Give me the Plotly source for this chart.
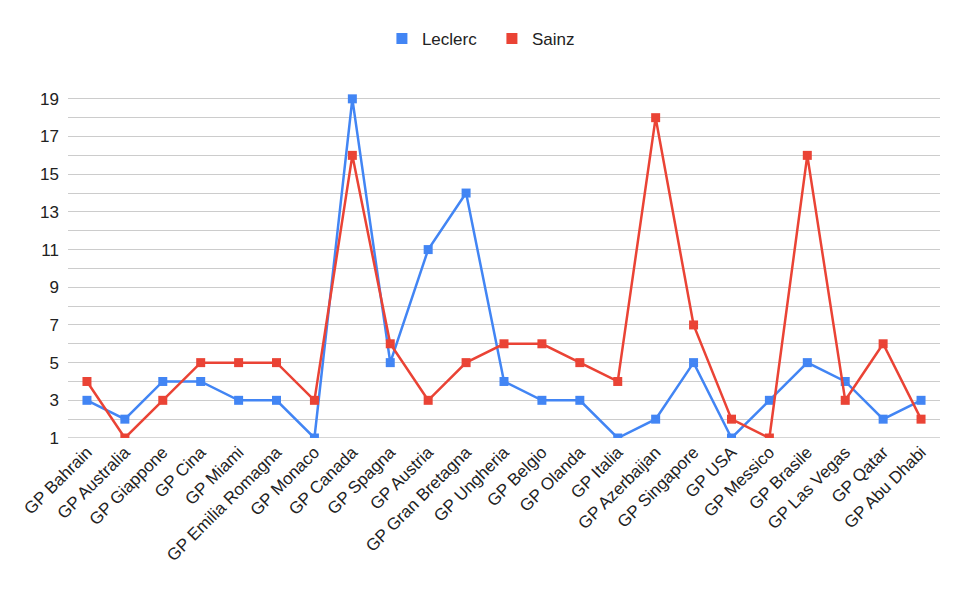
import plotly.graph_objects as go

races = ["GP Bahrain", "GP Australia", "GP Giappone", "GP Cina", "GP Miami",
         "GP Emilia Romagna", "GP Monaco", "GP Canada", "GP Spagna", "GP Austria",
         "GP Gran Bretagna", "GP Ungheria", "GP Belgio", "GP Olanda", "GP Italia",
         "GP Azerbaijan", "GP Singapore", "GP USA", "GP Messico", "GP Brasile",
         "GP Las Vegas", "GP Qatar", "GP Abu Dhabi"]
leclerc = [3, 2, 4, 4, 3, 3, 1, 19, 5, 11, 14, 4, 3, 3, 1, 2, 5, 1, 3, 5, 4, 2, 3]
sainz = [4, 1, 3, 5, 5, 5, 3, 16, 6, 3, 5, 6, 6, 5, 4, 18, 7, 2, 1, 16, 3, 6, 2]
y_ticks = [1, 3, 5, 7, 9, 11, 13, 15, 17, 19]

BLUE = "#4285F4"
RED = "#EA4335"
FONT = "Liberation Sans, Arial, sans-serif"

fig = go.Figure()
for name, vals, col in [("Leclerc", leclerc, BLUE), ("Sainz", sainz, RED)]:
    fig.add_trace(go.Scatter(
        x=races, y=vals, mode="lines+markers", name=name,
        line=dict(color=col, width=2.5),
        marker=dict(symbol="square", size=9, color=col),
        showlegend=False, hoverinfo="x+y"))
for name, col in [("Leclerc", BLUE), ("Sainz", RED)]:
    fig.add_trace(go.Scatter(
        x=[None], y=[None], mode="markers", name=name,
        marker=dict(symbol="square", size=11, color=col)))

fig.update_layout(
    width=970, height=600,
    margin=dict(l=68, r=30, t=80, b=162),
    paper_bgcolor="white", plot_bgcolor="white",
    font=dict(family=FONT, size=17, color="#222222"),
    legend=dict(orientation="h", x=0.36, xanchor="left", y=1.115, yanchor="middle",
                font=dict(size=17, color="#222222"), itemwidth=30,
                entrywidth=65, entrywidthmode="pixels",
                tracegroupgap=0),
    xaxis=dict(type="category", categoryorder="array", categoryarray=races,
               range=[-0.5, len(races) - 0.5], tickangle=-45,
               showgrid=False, zeroline=False, showline=False,
               tickfont=dict(size=17, color="#222222")),
    yaxis=dict(range=[1, 20], tickvals=y_ticks, showgrid=True,
               gridcolor="#cccccc", gridwidth=1, zeroline=False,
               showline=False, ticklabelstandoff=8,
               minor=dict(dtick=1, tick0=0, showgrid=True, gridcolor="#cccccc", gridwidth=1),
               tickfont=dict(size=17, color="#222222")),
)
fig.add_hline(y=1, line=dict(color="#aaaaaa", width=1), layer="below")

fig.write_html("out.html")
